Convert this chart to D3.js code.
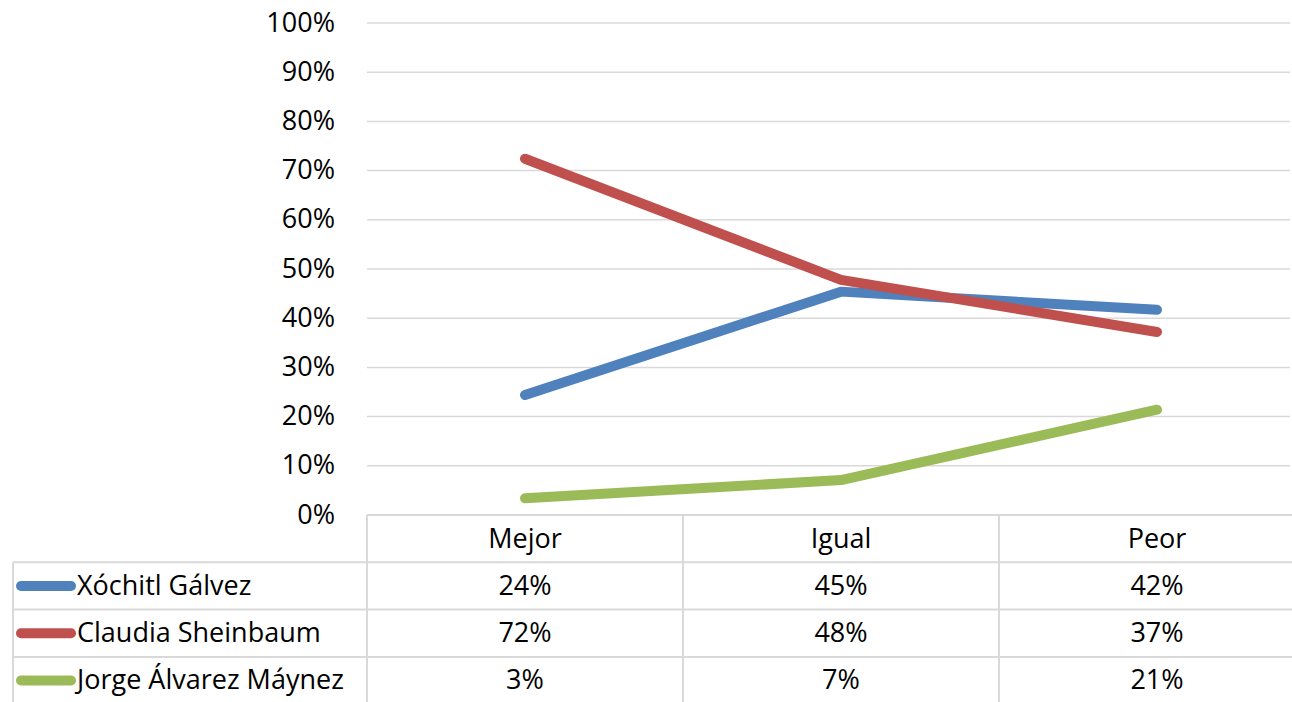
<!DOCTYPE html>
<html><head><meta charset="utf-8">
<script src="https://cdn.jsdelivr.net/npm/d3@7"></script>
<style>body{margin:0;background:#fff}svg{display:block}text{font-family:"Open Sans",sans-serif;fill:#000}</style>
</head><body><svg id="c" width="1292" height="702"></svg>
<script>
const categories = ["Mejor", "Igual", "Peor"];
const seriesNames = ["Xóchitl Gálvez", "Claudia Sheinbaum", "Jorge Álvarez Máynez"];
const xochitl = [0.244, 0.454, 0.417];
const claudia = [0.724, 0.478, 0.372];
const jorge = [0.034, 0.071, 0.214];
const colors = ["#4F81BD", "#C0504D", "#9BBB59"];
const yTicks = [0, 0.1, 0.2, 0.3, 0.4, 0.5, 0.6, 0.7, 0.8, 0.9, 1.0];

const series = [xochitl, claudia, jorge];
const svg = d3.select("#c");
const fs = 27;
const x = d3.scaleBand().domain(categories).range([367, 1315]);
const y = d3.scaleLinear().domain([0, 1]).range([515, 23]);
const fmt = d3.format(".0%");
const grid = "#d9d9d9";

svg.append("g").selectAll("line").data(yTicks).join("line")
  .attr("x1", 367).attr("x2", 1290)
  .attr("y1", d => y(d)).attr("y2", d => y(d))
  .attr("stroke", grid).attr("stroke-width", 1.5);

const yAxis = d3.axisLeft(y).tickValues(yTicks).tickFormat(fmt).tickSize(0).tickPadding(0);
const ga = svg.append("g").attr("transform", "translate(335,0)").call(yAxis);
ga.select(".domain").remove();
ga.selectAll("text").attr("font-size", fs).attr("font-family", '"Open Sans",sans-serif').attr("fill", "#000").attr("dy", "0.3em");

const line = d3.line().x((d, i) => x(categories[i]) + x.bandwidth() / 2).y(d => y(d));
series.forEach((s, k) => {
  svg.append("path").datum(s).attr("d", line).attr("fill", "none")
    .attr("stroke", colors[k]).attr("stroke-width", 10)
    .attr("stroke-linecap", "round").attr("stroke-linejoin", "round");
});

const rowH = 47.3;
const tTop = 515;
const dyT = "0.33em";
const t = svg.append("g");
t.append("line").attr("x1", 367).attr("x2", 1292).attr("y1", tTop).attr("y2", tTop).attr("stroke", grid).attr("stroke-width", 2);
[1, 2, 3].forEach(r => {
  t.append("line").attr("x1", 13).attr("x2", 1292).attr("y1", tTop + r * rowH).attr("y2", tTop + r * rowH).attr("stroke", grid).attr("stroke-width", 2);
});
t.append("line").attr("x1", 13).attr("x2", 13).attr("y1", tTop + rowH).attr("y2", 702).attr("stroke", grid).attr("stroke-width", 2);
categories.forEach(c => {
  t.append("line").attr("x1", x(c)).attr("x2", x(c)).attr("y1", tTop).attr("y2", 702).attr("stroke", grid).attr("stroke-width", 2);
});
t.selectAll("text.h").data(categories).join("text").attr("class", "h")
  .attr("x", d => x(d) + x.bandwidth() / 2).attr("y", tTop + rowH / 2).attr("dy", dyT)
  .attr("text-anchor", "middle").attr("font-size", fs).text(d => d);
series.forEach((s, k) => {
  const cy = tTop + (k + 1) * rowH + rowH / 2;
  t.append("line").attr("x1", 21).attr("x2", 71).attr("y1", cy).attr("y2", cy)
    .attr("stroke", colors[k]).attr("stroke-width", 10).attr("stroke-linecap", "round");
  t.append("text").attr("x", 77).attr("y", cy).attr("dy", dyT)
    .attr("font-size", fs).text(seriesNames[k]);
  t.selectAll(null).data(s).join("text")
    .attr("x", (d, i) => x(categories[i]) + x.bandwidth() / 2).attr("y", cy).attr("dy", dyT)
    .attr("text-anchor", "middle")
    .attr("font-size", fs).text(d => fmt(d));
});
</script></body></html>
